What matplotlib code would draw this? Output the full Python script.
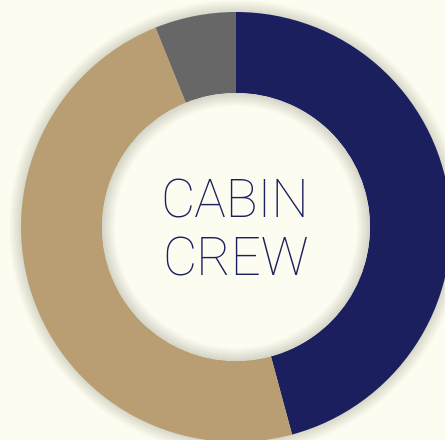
import matplotlib
matplotlib.use("Agg")
import matplotlib.pyplot as plt
from matplotlib.patches import Circle, Wedge

# donut data
labels = ["Navy", "Tan", "Gray"]
shares = [45.8, 48.1, 6.1]
colors = ["#1b1f5e", "#b89e72", "#676767"]

bg = "#fcfcf0"
W, H = 445, 440
cx, cy = 236, 440 - 227
r_out, r_in = 215, 134

fig = plt.figure(figsize=(W / 100, H / 100), dpi=100, facecolor=bg)
ax = fig.add_axes([0, 0, 1, 1])
ax.set_facecolor(bg)

# soft shadow outside the ring
for i in range(12, 0, -1):
    ax.add_patch(Circle((cx, cy), r_out + i, color="#4a4a30", alpha=0.015, lw=0, zorder=1))

ax.pie(shares, colors=colors, startangle=90, counterclock=False,
       radius=r_out, center=(cx, cy), frame=True,
       wedgeprops=dict(width=r_out - r_in, linewidth=0))
ax.set_xlim(0, W)
ax.set_ylim(0, H)
ax.set_aspect("equal")
ax.axis("off")

# hole + inner shadow
ax.add_patch(Circle((cx, cy), r_in, color=bg, lw=0, zorder=3))
for i in range(1, 14):
    ax.add_patch(Wedge((cx, cy), r_in, 0, 360, width=i, color="#4a4a30",
                       alpha=0.015, lw=0, zorder=4))

ax.text(cx - 1, cy + 24, "CABIN", ha="center", va="center", fontsize=38,
        color="#1b1f5e", family="Roboto", fontweight="light", zorder=5)
ax.text(cx, cy - 34, "CREW", ha="center", va="center", fontsize=38,
        color="#1b1f5e", family="Roboto", fontweight="light", zorder=5)

fig.savefig("out.png", dpi=100, facecolor=bg)
